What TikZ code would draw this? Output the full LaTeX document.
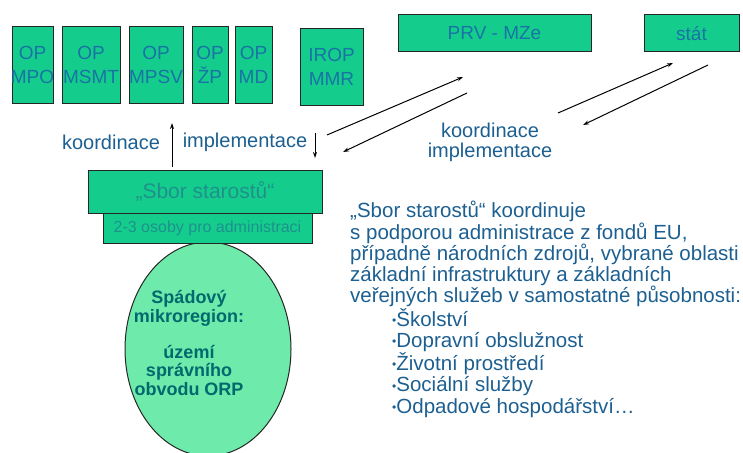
\documentclass[tikz,border=0pt]{standalone}
\usepackage{fontspec}
\setmainfont{Liberation Sans}
\usepackage{xcolor}
\usetikzlibrary{arrows.meta,shapes.geometric}
\definecolor{boxgreen}{RGB}{20,205,140}
\definecolor{ovalgreen}{RGB}{110,235,170}
\definecolor{optext}{RGB}{25,115,165}
\definecolor{tealtext}{RGB}{30,145,140}
\definecolor{ovaltext}{RGB}{0,105,110}
\definecolor{bluetext}{RGB}{28,95,145}
\newcommand{\px}[2]{\fontsize{#1}{#2}\selectfont}
\newcommand{\bul}{\hspace*{42pt}{\px{12}{12}\raisebox{1.8pt}{•}}}

\begin{document}
\begin{tikzpicture}[x=1pt,y=-1pt,
    every node/.style={font=\px{19}{24}},
    fund/.style={draw=black!85, line width=1pt, fill=boxgreen, inner sep=0pt},
    fundlabel/.style={text=optext, align=center, inner sep=0pt},
    flow/.style={line width=1pt, -{Stealth[length=6pt,width=4pt]}},
    bluelabel/.style={text=bluetext, font=\px{20}{20}, align=center, inner sep=0pt}]
  \useasboundingbox (0,0) rectangle (743,452);
  % operational programmes of the ministries
  \node[fund, minimum width=41, minimum height=76, label={[fundlabel]center:OP\\MPO}] (mpo) at (32.5,65) {};
  \node[fund, minimum width=58, minimum height=76, label={[fundlabel]center:OP\\MSMT}] (msmt) at (91,65) {};
  \node[fund, minimum width=54, minimum height=76, label={[fundlabel]center:OP\\MPSV}] (mpsv) at (156,65) {};
  \node[fund, minimum width=36, minimum height=76, label={[fundlabel]center:OP\\ŽP}] (zp) at (210,65) {};
  \node[fund, minimum width=37, minimum height=76, label={[fundlabel]center:OP\\MD}] (md) at (253.5,65) {};
  \node[fund, minimum width=63, minimum height=76, label={[fundlabel]center:IROP\\MMR}] (irop) at (331.5,67) {};
  % rural programme and the state
  \node[fund, minimum width=193, minimum height=37, label={[fundlabel]center:PRV - MZe}] (prv) at (494.5,33.5) {};
  \node[fund, minimum width=95, minimum height=37, label={[fundlabel]center:stát}] (stat) at (691.5,33.5) {};
  % micro-region : oval under the mayors
  \node[ellipse, draw=black!85, line width=1pt, fill=ovalgreen, minimum width=166, minimum height=214, inner sep=0pt] (region) at (208,349) {};
  \node[text=ovaltext, font=\bfseries\px{18}{18.3}, align=center] (regiontext) at (189,343)
    {Spádový\\mikroregion:\\[18.3pt]území\\správního\\obvodu ORP};
  % board of mayors with its administration
  \node[fund, minimum width=209, minimum height=30, label={[fundlabel, text=tealtext, font=\px{16}{16}]center:2-3 osoby pro administraci}] (admin) at (207.5,228) {};
  \node[fund, minimum width=234, minimum height=43, label={[fundlabel, text=tealtext, font=\px{21}{21}]center:„Sbor starostů“}] (sbor) at (205,191.5) {};
  % vertical links
  \node[bluelabel] (coordup) at (111,142) {koordinace};
  \node[bluelabel] (impldown) at (245,142) {implementace};
  \coordinate (upfrom) at (172,167);
  \coordinate (upto) at (172,123);
  \coordinate (downfrom) at (315,133);
  \coordinate (downto) at (315,158);
  \draw[flow] (upfrom) -- (upto);
  \draw[flow] (downfrom) -- (downto);
  % diagonal links
  \node[bluelabel] (coordside) at (490,142) {koordinace\\implementace};
  \coordinate (prvfrom) at (327,135);
  \coordinate (prvto) at (463,77);
  \coordinate (prvback) at (467,93);
  \coordinate (prvend) at (343,152);
  \coordinate (statfrom) at (558,113);
  \coordinate (statto) at (673,63);
  \coordinate (statback) at (708,65);
  \coordinate (statend) at (583,125);
  \draw[flow] (prvfrom) -- (prvto);
  \draw[flow] (prvback) -- (prvend);
  \draw[flow] (statfrom) -- (statto);
  \draw[flow] (statback) -- (statend);
  % duties of the board
  \node[bluelabel, align=left, anchor=north west, font=\px{20.5}{21.3}] (duties) at (350,201)
    {„Sbor starostů“ koordinuje\\
     s podporou administrace z fondů EU,\\
     případně národních zdrojů, vybrané oblasti\\
     základní infrastruktury a základních\\
     veřejných služeb v samostatné působnosti:\\
     \bul Školství\\
     \bul Dopravní obslužnost\\
     \bul Životní prostředí\\
     \bul Sociální služby\\
     \bul Odpadové hospodářství…};
\end{tikzpicture}
\end{document}
